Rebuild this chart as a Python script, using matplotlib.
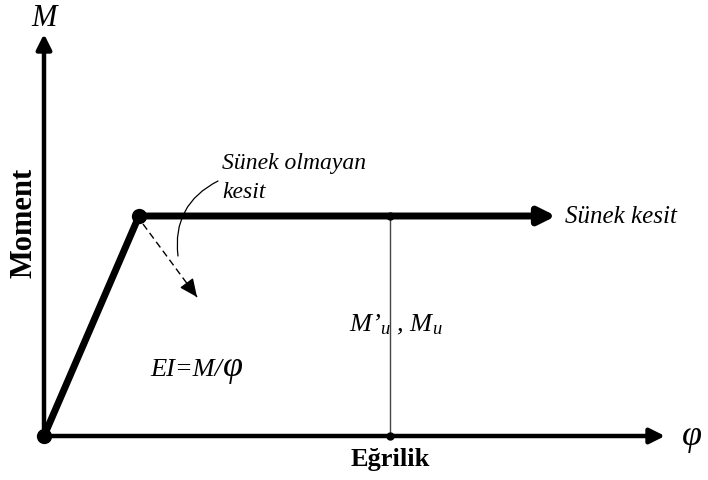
import matplotlib.pyplot as plt
import numpy as np

# moment-egrilik idealizasyonu (sematik birimler)
phi_pts = [0, 95, 512]        # egrilik: orijin, akma, sunek kesit ucu
m_pts = [0, 220, 220]         # moment
phi_u = 346                   # M'u , Mu okunan egrilik
phi_axis_max = 621
m_axis_max = 402
brittle_start = (99, 212)
brittle_end = (153, 139)

plt.rcParams['font.family'] = ['Liberation Serif', 'DejaVu Serif']
plt.rcParams['mathtext.fontset'] = 'custom'
plt.rcParams['mathtext.rm'] = 'Liberation Serif'
plt.rcParams['mathtext.it'] = 'Liberation Serif:italic'

fig = plt.figure(figsize=(7.08, 4.81), dpi=100)
ax = fig.add_axes([0, 0, 1, 1])
ax.set_xlim(-44, 664)
ax.set_ylim(-44, 437)
ax.axis('off')

# eksenler
ax.annotate('', xy=(phi_axis_max, 0), xytext=(0, 0),
            arrowprops=dict(arrowstyle='-|>,head_length=0.9,head_width=0.45',
                            lw=3.2, color='black', shrinkA=0, shrinkB=0))
ax.annotate('', xy=(0, m_axis_max), xytext=(0, 0),
            arrowprops=dict(arrowstyle='-|>,head_length=0.9,head_width=0.45',
                            lw=3.2, color='black', shrinkA=0, shrinkB=0))

# M-phi egrisi
ax.plot(phi_pts[:2], m_pts[:2], color='black', lw=5, solid_capstyle='round')
ax.annotate('', xy=(phi_pts[2], m_pts[2]), xytext=(phi_pts[1], m_pts[1]),
            arrowprops=dict(arrowstyle='-|>,head_length=1.0,head_width=0.5',
                            lw=5, color='black', shrinkA=0, shrinkB=0))
ax.plot([0, phi_pts[1]], [0, m_pts[1]], 'o', color='black', ms=10)

# Mu cizgisi
ax.plot([phi_u, phi_u], [0, m_pts[1]], color='#444444', lw=1)
ax.plot([phi_u, phi_u], [0, m_pts[1]], 'o', color='black', ms=5)

# sunek olmayan kesit (kesikli ok)
ax.plot([brittle_start[0], brittle_end[0]], [brittle_start[1], brittle_end[1]],
        color='black', lw=1, ls=(0, (5, 3)))
ax.annotate('', xy=brittle_end, xytext=(brittle_end[0] - 0.74 * 12, brittle_end[1] + 12),
            arrowprops=dict(arrowstyle='-|>,head_length=1.1,head_width=0.5',
                            lw=1, color='black', shrinkA=0, shrinkB=0))
ax.annotate('', xy=(134, 180), xytext=(174, 255),
            arrowprops=dict(arrowstyle='-', lw=0.9, color='black',
                            connectionstyle='arc3,rad=0.35',
                            shrinkA=0, shrinkB=0))

# yazilar
ax.text(0, 419, 'M', style='italic', fontsize=22, ha='center', va='center')
ax.text(-20, 214, 'Moment', fontweight='bold', fontsize=22, rotation=90,
        ha='center', va='center')
ax.text(346, -23, 'Eğrilik', fontweight='bold', fontsize=19,
        ha='center', va='center')
ax.text(648, 0, 'φ', style='italic', fontsize=26, ha='center', va='center')
ax.text(521, 220, 'Sünek kesit', style='italic', fontsize=18,
        ha='left', va='center')
ax.text(178, 274, 'Sünek olmayan', style='italic', fontsize=17,
        ha='left', va='center')
ax.text(178, 244, 'kesit', style='italic', fontsize=17,
        ha='left', va='center')
ax.text(352, 112, "M’$_u$ , M$_u$", style='italic', fontsize=19,
        ha='center', va='center')

t = ax.text(106, 67, 'EI=M/', style='italic', fontsize=19, ha='left', va='center')
fig.canvas.draw()
bb = t.get_window_extent().transformed(ax.transData.inverted())
ax.text(bb.x1 + 1, 69, 'φ', style='italic', fontsize=26, ha='left', va='center')

fig.savefig('out.png', dpi=100)
